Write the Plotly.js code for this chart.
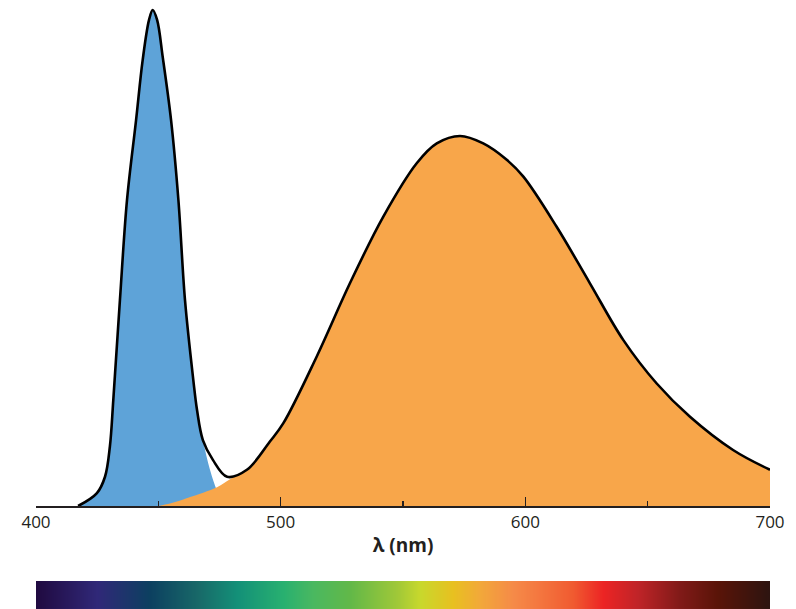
<!DOCTYPE html>
<html>
<head>
<meta charset="utf-8">
<script src="https://cdn.plot.ly/plotly-3.0.1.min.js"></script>
<style>html,body{margin:0;padding:0;background:#fff;}#chart{width:796px;height:609px;}</style>
</head>
<body>
<div id="chart"></div>
<script>
// Total emission outline (black line)
const totalNm = [417.2,424.9,428.2,430.2,431.6,434.3,437.2,440.9,443.6,446.2,447.7,449.5,451.8,455.2,458.2,460.9,464.3,465.8,468.2,472.3,478.1,486.2,495.6,501.1,514.7,528.3,541.9,555.6,563.8,573.3,582.8,592.4,599.2,612.8,626.4,640.0,653.7,667.3,684.9,700];
const totalVal = [0,0.026,0.059,0.120,0.214,0.415,0.617,0.778,0.899,0.980,1.0,0.980,0.905,0.778,0.617,0.415,0.254,0.194,0.133,0.093,0.059,0.073,0.130,0.167,0.301,0.449,0.583,0.691,0.731,0.746,0.731,0.698,0.664,0.563,0.449,0.335,0.247,0.180,0.113,0.073];

// Blue LED component (fill)
const blueNm  = [417.2,424.9,428.2,430.2,431.6,434.3,437.2,440.9,443.6,446.2,447.7,449.5,451.8,455.2,458.2,460.9,464.3,465.8,468.2,471.1,473.9,475.2,477.5];
const blueVal = [0,0.026,0.059,0.120,0.214,0.415,0.617,0.778,0.899,0.980,1.0,0.980,0.905,0.778,0.617,0.415,0.254,0.194,0.133,0.073,0.032,0.019,0];

// Phosphor component (fill)
const orangeNm  = [450,454.8,460.2,463,474,479.3,486.2,495.6,501.1,514.7,528.3,541.9,555.6,563.8,573.3,582.8,592.4,599.2,612.8,626.4,640.0,653.7,667.3,684.9,700];
const orangeVal = [0,0.005,0.013,0.018,0.038,0.054,0.073,0.130,0.167,0.301,0.449,0.583,0.691,0.731,0.746,0.731,0.698,0.664,0.563,0.449,0.335,0.247,0.180,0.113,0.073];

// Spectrum bar colour stops
const specNm = [400,424.9,446.6,465.8,482.2,501,513.2,528.3,547.5,557,570.4,581.5,595,604.8,619.5,631.7,645.7,663.2,678.3,700];
const specColors = ['#200a40','#302878','#0c4060','#186868','#139078','#28b070','#4ab860','#62b848','#a0c838','#c8d82c','#e8c020','#f2a83a','#f58a48','#f47840','#f05a30','#ec2424','#c02428','#801a18','#5a1408','#2c1410'];

const tickVals = [400,500,600,700];
const tickText = ['400','500','600','700'];

const colorscale = specNm.map((w,i)=>[(w-400)/300, specColors[i]]);

const traces = [
  {x: blueNm, y: blueVal, type:'scatter', mode:'lines', fill:'tozeroy',
   fillcolor:'#5ea3d8', line:{width:0, shape:'spline', smoothing:1}, hoverinfo:'skip'},
  {x: orangeNm, y: orangeVal, type:'scatter', mode:'lines', fill:'tozeroy',
   fillcolor:'#f8a64a', line:{width:0, shape:'spline', smoothing:1}, hoverinfo:'skip'},
  {x: totalNm, y: totalVal, type:'scatter', mode:'lines',
   line:{color:'#000000', width:2.6, shape:'spline', smoothing:1}, hoverinfo:'skip'},
  {x: specNm, y: [0,1], z: [specNm, specNm], type:'heatmap', xaxis:'x', yaxis:'y2',
   colorscale: colorscale, zmin:400, zmax:700, zsmooth:'best', showscale:false, hoverinfo:'skip'}
];

const layout = {
  width: 796, height: 609,
  margin: {l:36, r:26, t:0, b:0, pad:0},
  paper_bgcolor:'#ffffff', plot_bgcolor:'#ffffff',
  showlegend:false, hovermode:false,
  font: {family:'"Open Sans", "Noto Sans", sans-serif', color:'#231f20'},
  xaxis: {
    range:[400,700], domain:[0,1], anchor:'y',
    showgrid:false, zeroline:false,
    showline:true, linecolor:'#231f20', linewidth:1.5,
    ticks:'inside', ticklen:9, tickwidth:1.5, tickcolor:'#231f20',
    tickvals: tickVals, ticktext: tickText,
    tickfont:{size:17, color:'#231f20'},
    minor:{ticks:'inside', dtick:50, tick0:400, ticklen:5, tickwidth:1.5, tickcolor:'#231f20', showgrid:false},
    title:{text:'<b>λ (nm)</b>', font:{size:19, color:'#231f20'}, standoff:7},
    layer:'above traces', fixedrange:true
  },
  yaxis: {
    domain:[0.1691, 1], range:[0, 1.0202],
    showgrid:false, zeroline:false, showline:false, showticklabels:false, ticks:'', fixedrange:true
  },
  xaxis2: {
    matches:'x', range:[400,700], anchor:'y2', overlaying:'x', side:'top',
    showgrid:false, zeroline:false, showline:true, linecolor:'#c8c8c8', linewidth:1,
    ticks:'', showticklabels:false, fixedrange:true
  },
  yaxis2: {
    domain:[0, 0.046], range:[0,1], anchor:'x',
    showgrid:false, zeroline:false, showline:false, showticklabels:false, ticks:'', fixedrange:true
  }
};

Plotly.newPlot('chart', traces, layout, {displayModeBar:false, staticPlot:true});
</script>
</body>
</html>
